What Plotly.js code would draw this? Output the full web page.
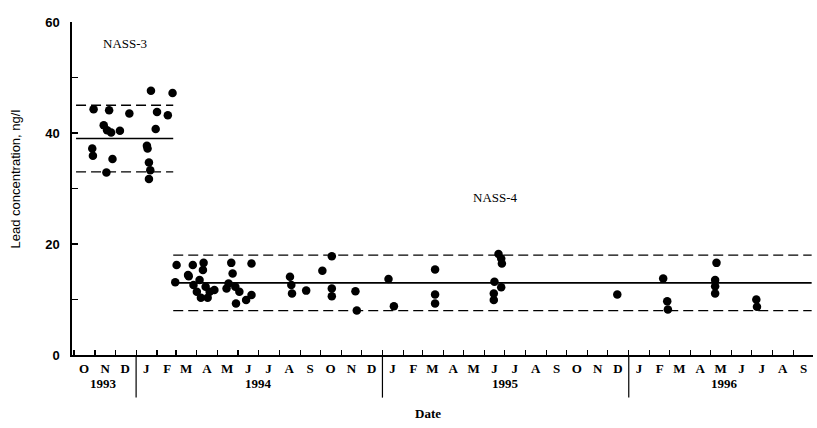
<!DOCTYPE html>
<html>
<head>
<meta charset="utf-8">
<script src="https://cdn.plot.ly/plotly-3.0.1.min.js"></script>
<style>html,body{margin:0;padding:0;background:#fff;}#chart{width:817px;height:428px;}</style>
</head>
<body>
<div id="chart"></div>
<script>
// ---- data ----
const nass3Dates = ['1993-10-28','1993-10-29','1993-10-30','1993-11-14','1993-11-18','1993-11-19','1993-11-22','1993-11-25','1993-11-27','1993-12-08','1993-12-22','1994-01-17','1994-01-18','1994-01-20','1994-01-20','1994-01-22','1994-01-23','1994-01-30','1994-02-01','1994-02-17','1994-02-24'];
const nass3Values = [37.2,35.9,44.3,41.4,32.9,40.5,44.1,40.1,35.3,40.4,43.5,37.7,37.2,34.7,31.7,33.3,47.6,40.7,43.8,43.2,47.2];

const nass4Dates = ['1994-02-28','1994-03-02','1994-03-19','1994-03-20','1994-03-26','1994-03-27','1994-04-01','1994-04-05','1994-04-07','1994-04-10','1994-04-11','1994-04-14','1994-04-17','1994-04-20','1994-04-27','1994-05-15','1994-05-18','1994-05-22','1994-05-24','1994-05-28','1994-05-29','1994-06-03','1994-06-13','1994-06-21','1994-06-21','1994-08-17','1994-08-19','1994-08-20','1994-09-10','1994-10-04','1994-10-18','1994-10-18','1994-10-18','1994-11-22','1994-11-24','1995-01-10','1995-01-18','1995-03-20','1995-03-20','1995-03-20','1995-06-16','1995-06-15','1995-06-15','1995-06-22','1995-06-26','1995-06-27','1995-06-26','1995-12-15','1996-02-21','1996-02-27','1996-02-28','1996-05-08','1996-05-08','1996-05-08','1996-05-10','1996-07-08','1996-07-09'];
const nass4Values = [13.1,16.2,14.4,14.2,16.2,12.6,11.4,13.5,10.3,15.3,16.6,12.3,10.3,11.4,11.7,12.0,12.9,16.6,14.7,12.3,9.3,11.4,9.9,10.8,16.5,14.1,12.6,11.1,11.6,15.2,17.8,12.0,10.6,11.5,8.0,13.7,8.8,15.4,10.9,9.3,13.2,11.1,9.9,18.2,17.4,16.5,12.2,10.9,13.8,9.7,8.2,13.5,12.4,11.1,16.6,10.0,8.7];

// certified value and uncertainty limits [lower, mean, upper] and the span they are drawn over
const nass3Span = ['1993-10-04','1994-02-25'];
const nass3Levels = [33, 39, 45];
const nass4Span = ['1994-02-25','1996-09-28'];
const nass4Levels = [8, 13, 18];

const monthLetters = ['O','N','D','J','F','M','A','M','J','J','A','S','O','N','D','J','F','M','A','M','J','J','A','S','O','N','D','J','F','M','A','M','J','J','A','S'];
const firstMonth = [1993, 10];
const yearLabels = ['1993','1994','1995','1996'];
const yearLabelDates = ['1993-11-13','1994-07-02','1995-07-02','1996-05-22'];
const yearBreaks = ['1994-01-01','1995-01-01','1996-01-01'];
const yTicks = [0, 20, 40, 60];

// ---- build ----
const pad = n => (n < 10 ? '0' : '') + n;
const monthVals = monthLetters.map((_, i) => {
  const m0 = firstMonth[1] - 1 + i;
  const y = firstMonth[0] + Math.floor(m0 / 12);
  const m = (m0 % 12) + 1;
  return y + '-' + pad(m) + '-16';
});

const serif = 'Liberation Serif, Times New Roman, serif';
const sans = 'Liberation Sans, Arial, sans-serif';

const traces = [];
function levelLines(span, levels) {
  levels.forEach((lv, i) => {
    traces.push({
      x: span, y: [lv, lv], mode: 'lines', type: 'scatter', hoverinfo: 'skip', showlegend: false,
      line: {color: '#000', width: i === 1 ? 1.6 : 1.4, dash: i === 1 ? 'solid' : '10px,5px'}
    });
  });
}
levelLines(nass3Span, nass3Levels);
levelLines(nass4Span, nass4Levels);
traces.push({x: nass3Dates, y: nass3Values, mode: 'markers', type: 'scatter', showlegend: false,
  marker: {color: '#000', size: 8.5}});
traces.push({x: nass4Dates, y: nass4Values, mode: 'markers', type: 'scatter', showlegend: false,
  marker: {color: '#000', size: 8.5}});

const annotations = [];
yearLabels.forEach((t, i) => annotations.push({
  x: yearLabelDates[i], xref: 'x', y: -0.085, yref: 'paper', text: t, showarrow: false,
  font: {family: serif, size: 13, color: '#000', weight: 'bold'}, xanchor: 'center', yanchor: 'middle'
}));
annotations.push({x: '1993-12-16', xref: 'x', y: 56.2, yref: 'y', text: 'NASS-3', showarrow: false,
  font: {family: serif, size: 13, color: '#000'}, xanchor: 'center', yanchor: 'middle'});
annotations.push({x: '1995-06-17', xref: 'x', y: 28.3, yref: 'y', text: 'NASS-4', showarrow: false,
  font: {family: serif, size: 13, color: '#000'}, xanchor: 'center', yanchor: 'middle'});
annotations.push({x: 0.48, xref: 'paper', y: -0.175, yref: 'paper', text: 'Date', showarrow: false,
  font: {family: serif, size: 13, color: '#000', weight: 'bold'}, xanchor: 'center', yanchor: 'middle'});
annotations.push({x: -0.0756, xref: 'paper', y: 0.53, yref: 'paper', text: 'Lead concentration, ng/l', showarrow: false,
  textangle: -90, font: {family: sans, size: 13, color: '#000'}, xanchor: 'center', yanchor: 'middle'});

const shapes = yearBreaks.map(d => ({
  type: 'line', xref: 'x', yref: 'paper', x0: d, x1: d, y0: 0, y1: -0.128,
  line: {color: '#000', width: 1.2}
}));

const layout = {
  width: 817, height: 428,
  margin: {l: 72, r: 4, t: 22, b: 73},
  paper_bgcolor: '#fff', plot_bgcolor: '#fff',
  showlegend: false,
  xaxis: {
    type: 'date', range: ['1993-09-28', '1996-09-30'],
    showgrid: false, zeroline: false, showline: true, linecolor: '#000', linewidth: 2,
    tickvals: monthVals, ticktext: monthLetters, ticks: 'inside', ticklen: 0,
    tickfont: {family: serif, size: 13, color: '#000', weight: 'bold'},
    minor: {dtick: 'M1', tick0: '1993-10-01', ticks: 'inside', ticklen: 5, tickwidth: 1.2, tickcolor: '#000', showgrid: false},
    fixedrange: true
  },
  yaxis: {
    range: [0, 60], tickvals: yTicks, ticktext: yTicks.map(String),
    showgrid: false, zeroline: false, showline: true, linecolor: '#000', linewidth: 1.6,
    ticks: 'inside', ticklen: 6, tickwidth: 1.2, tickcolor: '#000', ticklabelstandoff: 8,
    tickfont: {family: sans, size: 13, color: '#000', weight: 'bold'},
    minor: {dtick: 10, tick0: 0, ticks: 'inside', ticklen: 6, tickwidth: 1.2, tickcolor: '#000', showgrid: false},
    fixedrange: true
  },
  annotations: annotations,
  shapes: shapes
};

Plotly.newPlot('chart', traces, layout, {displayModeBar: false, staticPlot: true});
</script>
</body>
</html>
